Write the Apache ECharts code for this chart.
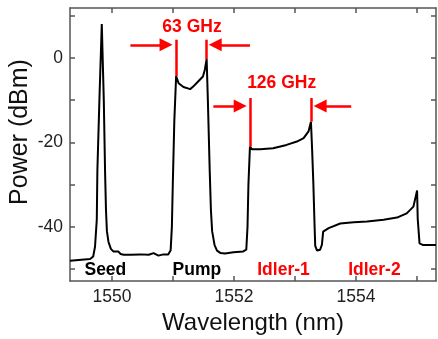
<!DOCTYPE html>
<html>
<head>
<meta charset="utf-8">
<script src="https://cdn.jsdelivr.net/npm/echarts@6/dist/echarts.min.js"></script>
<style>
  html, body { margin: 0; padding: 0; background: #fff; }
  #spectrum { width: 438px; height: 339px; }
</style>
</head>
<body>
<div id="spectrum"></div>
<script>
// spectrum trace
const wavelength = [
  1549.31, 1549.64, 1549.69, 1549.72, 1549.749, 1549.759, 1549.792, 1549.831,
  1549.864, 1549.885, 1549.90, 1549.915, 1549.94, 1549.98, 1550.02, 1550.05,
  1550.10, 1550.14, 1550.19, 1550.30, 1550.46, 1550.60, 1550.68, 1550.76,
  1550.84, 1550.92, 1550.96, 1550.98, 1550.995, 1551.02, 1551.05, 1551.09,
  1551.17, 1551.28, 1551.33, 1551.41, 1551.49, 1551.52, 1551.55, 1551.57,
  1551.60, 1551.62, 1551.64, 1551.68, 1551.72, 1551.78, 1551.85, 1551.99,
  1552.15, 1552.20, 1552.22, 1552.235, 1552.26, 1552.29, 1552.43, 1552.64,
  1552.86, 1553.03, 1553.14, 1553.22, 1553.26, 1553.28, 1553.30, 1553.32,
  1553.33, 1553.36, 1553.41, 1553.44, 1553.46, 1553.55, 1553.74, 1553.96,
  1554.18, 1554.45, 1554.67, 1554.83, 1554.94, 1555.00, 1555.01, 1555.04,
  1555.10, 1555.31
]
const power = [
  -48.0, -47.6, -47.0, -44.7, -38.3, -26.5, -10.0, 8.0,
  -10.0, -27.0, -36.0, -41.0, -43.5, -45.2, -45.8, -46.2,
  -45.8, -46.4, -46.6, -46.6, -46.5, -46.6, -46.2, -46.8,
  -46.5, -46.5, -45.5, -40.0, -30.0, -15.0, -4.3, -6.0,
  -6.9, -7.4, -6.8, -5.6, -4.4, -2.8, -0.3, -10.0,
  -26.5, -36.0, -41.0, -44.3, -45.6, -46.2, -46.3, -46.0,
  -45.8, -45.4, -40.0, -30.0, -21.0, -21.6, -21.6, -21.4,
  -20.6, -19.8, -19.0, -17.4, -15.1, -22.0, -30.0, -40.0,
  -44.5, -45.6, -45.4, -44.2, -41.1, -40.3, -39.2, -38.9,
  -38.7, -38.3, -37.8, -36.8, -35.2, -31.4, -38.0, -43.9,
  -44.3, -44.3
]

const xTicks = [1550, 1551, 1552, 1553, 1554, 1555]
const xLabels = [1550, 1552, 1554]
const yTicks = [-50, -40, -30, -20, -10, 0, 10]
const yLabels = [-40, -20, 0]

// peak names under the trace
const blackNames = ['Seed', 'Pump']
const blackNameX = [1549.89, 1551.39]
const redNames = ['Idler-1', 'Idler-2', '63 GHz', '126 GHz']
const redNameX = [1552.81, 1554.30, 1551.31, 1552.78]
const redNameY = [-50.3, -50.3, 7.3, -5.9]
const nameY = -50.3

// spacing markers: [x, yTop, yBottom]
const markerLines = [
  [1551.05, 4.3, -4.3],
  [1551.55, 4.3, -0.3],
  [1552.26, -9.5, -21.0],
  [1553.26, -9.5, -15.1]
]
// arrows: [xFrom, xTo, y]
const arrows = [
  [1550.30, 1550.885, 3.1],
  [1552.26, 1551.69, 3.1],
  [1551.66, 1552.10, -11.4],
  [1553.92, 1553.41, -11.4]
]

const RED = '#ff0000'
const FONT = 'Liberation Sans'

const trace = wavelength.map((w, i) => [w, power[i]])

let myChart = echarts.init(document.getElementById('spectrum'))

const axisLine = { show: true, onZero: false, lineStyle: { color: '#555', width: 1.5 } }
const tick = (vals) => ({ show: true, inside: true, length: 5, customValues: vals, lineStyle: { color: '#555', width: 1.5 } })

const nameLabel = (color) => ({
  show: true,
  position: 'inside',
  formatter: (p) => p.name,
  fontFamily: FONT,
  fontWeight: 'bold',
  fontSize: 17.5,
  color: color,
  opacity: 1
})

myChart.setOption({
  animation: false,
  grid: { left: 70, right: 2, top: 8, bottom: 58, outerBoundsMode: 'none' },
  graphic: [
    {
      type: 'text',
      x: 20,
      y: 132,
      rotation: Math.PI / 2,
      style: {
        text: 'Power (dBm)',
        fontFamily: FONT,
        fontSize: 25,
        fill: '#111',
        align: 'center',
        verticalAlign: 'middle'
      }
    }
  ],
  xAxis: [
    {
      type: 'value',
      min: 1549.31,
      max: 1555.31,
      position: 'bottom',
      axisLine: axisLine,
      axisTick: tick(xTicks),
      splitLine: { show: false },
      axisLabel: {
        customValues: xLabels,
        formatter: (v) => String(v),
        fontFamily: FONT,
        fontSize: 17.5,
        color: '#222',
        margin: 7
      },
      name: 'Wavelength (nm)',
      nameLocation: 'middle',
      nameGap: 26,
      nameTextStyle: { fontFamily: FONT, fontSize: 24, color: '#111' }
    },
    {
      type: 'value',
      min: 1549.31,
      max: 1555.31,
      position: 'top',
      axisLine: axisLine,
      axisTick: tick(xTicks),
      splitLine: { show: false },
      axisLabel: { show: false }
    }
  ],
  yAxis: [
    {
      type: 'value',
      min: -52.8,
      max: 11.8,
      position: 'left',
      axisLine: axisLine,
      axisTick: tick(yTicks),
      splitLine: { show: false },
      axisLabel: {
        customValues: yLabels,
        fontFamily: FONT,
        fontSize: 17.5,
        color: '#222',
        margin: 7
      }
    },
    {
      type: 'value',
      min: -52.8,
      max: 11.8,
      position: 'right',
      axisLine: axisLine,
      axisTick: tick(yTicks),
      splitLine: { show: false },
      axisLabel: { show: false }
    }
  ],
  series: [
    {
      name: 'markers',
      type: 'line',
      data: [],
      silent: true,
      markLine: {
        silent: true,
        symbol: ['none', 'none'],
        label: { show: false },
        lineStyle: { color: RED, width: 2.5, type: 'solid' },
        emphasis: { disabled: true },
        data: markerLines.map((m) => [{ coord: [m[0], m[1]] }, { coord: [m[0], m[2]] }])
      }
    },
    {
      name: 'arrows',
      type: 'line',
      data: [],
      silent: true,
      markLine: {
        silent: true,
        symbol: ['none', 'triangle'],
        symbolSize: 13,
        label: { show: false },
        lineStyle: { color: RED, width: 2.5, type: 'solid' },
        itemStyle: { color: RED },
        emphasis: { disabled: true },
        data: arrows.map((a) => [{ coord: [a[0], a[2]] }, { coord: [a[1], a[2]] }])
      }
    },
    {
      name: 'spectrum',
      type: 'line',
      data: trace,
      showSymbol: false,
      symbol: 'none',
      silent: true,
      lineStyle: { color: '#000', width: 2 },
      emphasis: { disabled: true }
    },
    {
      name: 'black names',
      type: 'scatter',
      symbolSize: 0,
      silent: true,
      itemStyle: { opacity: 1 },
      data: blackNames.map((n, i) => ({ name: n, value: [blackNameX[i], nameY] })),
      label: nameLabel('#000')
    },
    {
      name: 'red names',
      type: 'scatter',
      symbolSize: 0,
      silent: true,
      itemStyle: { opacity: 1 },
      data: redNames.map((n, i) => ({ name: n, value: [redNameX[i], redNameY[i]] })),
      label: nameLabel(RED)
    }
  ]
})
</script>
</body>
</html>
